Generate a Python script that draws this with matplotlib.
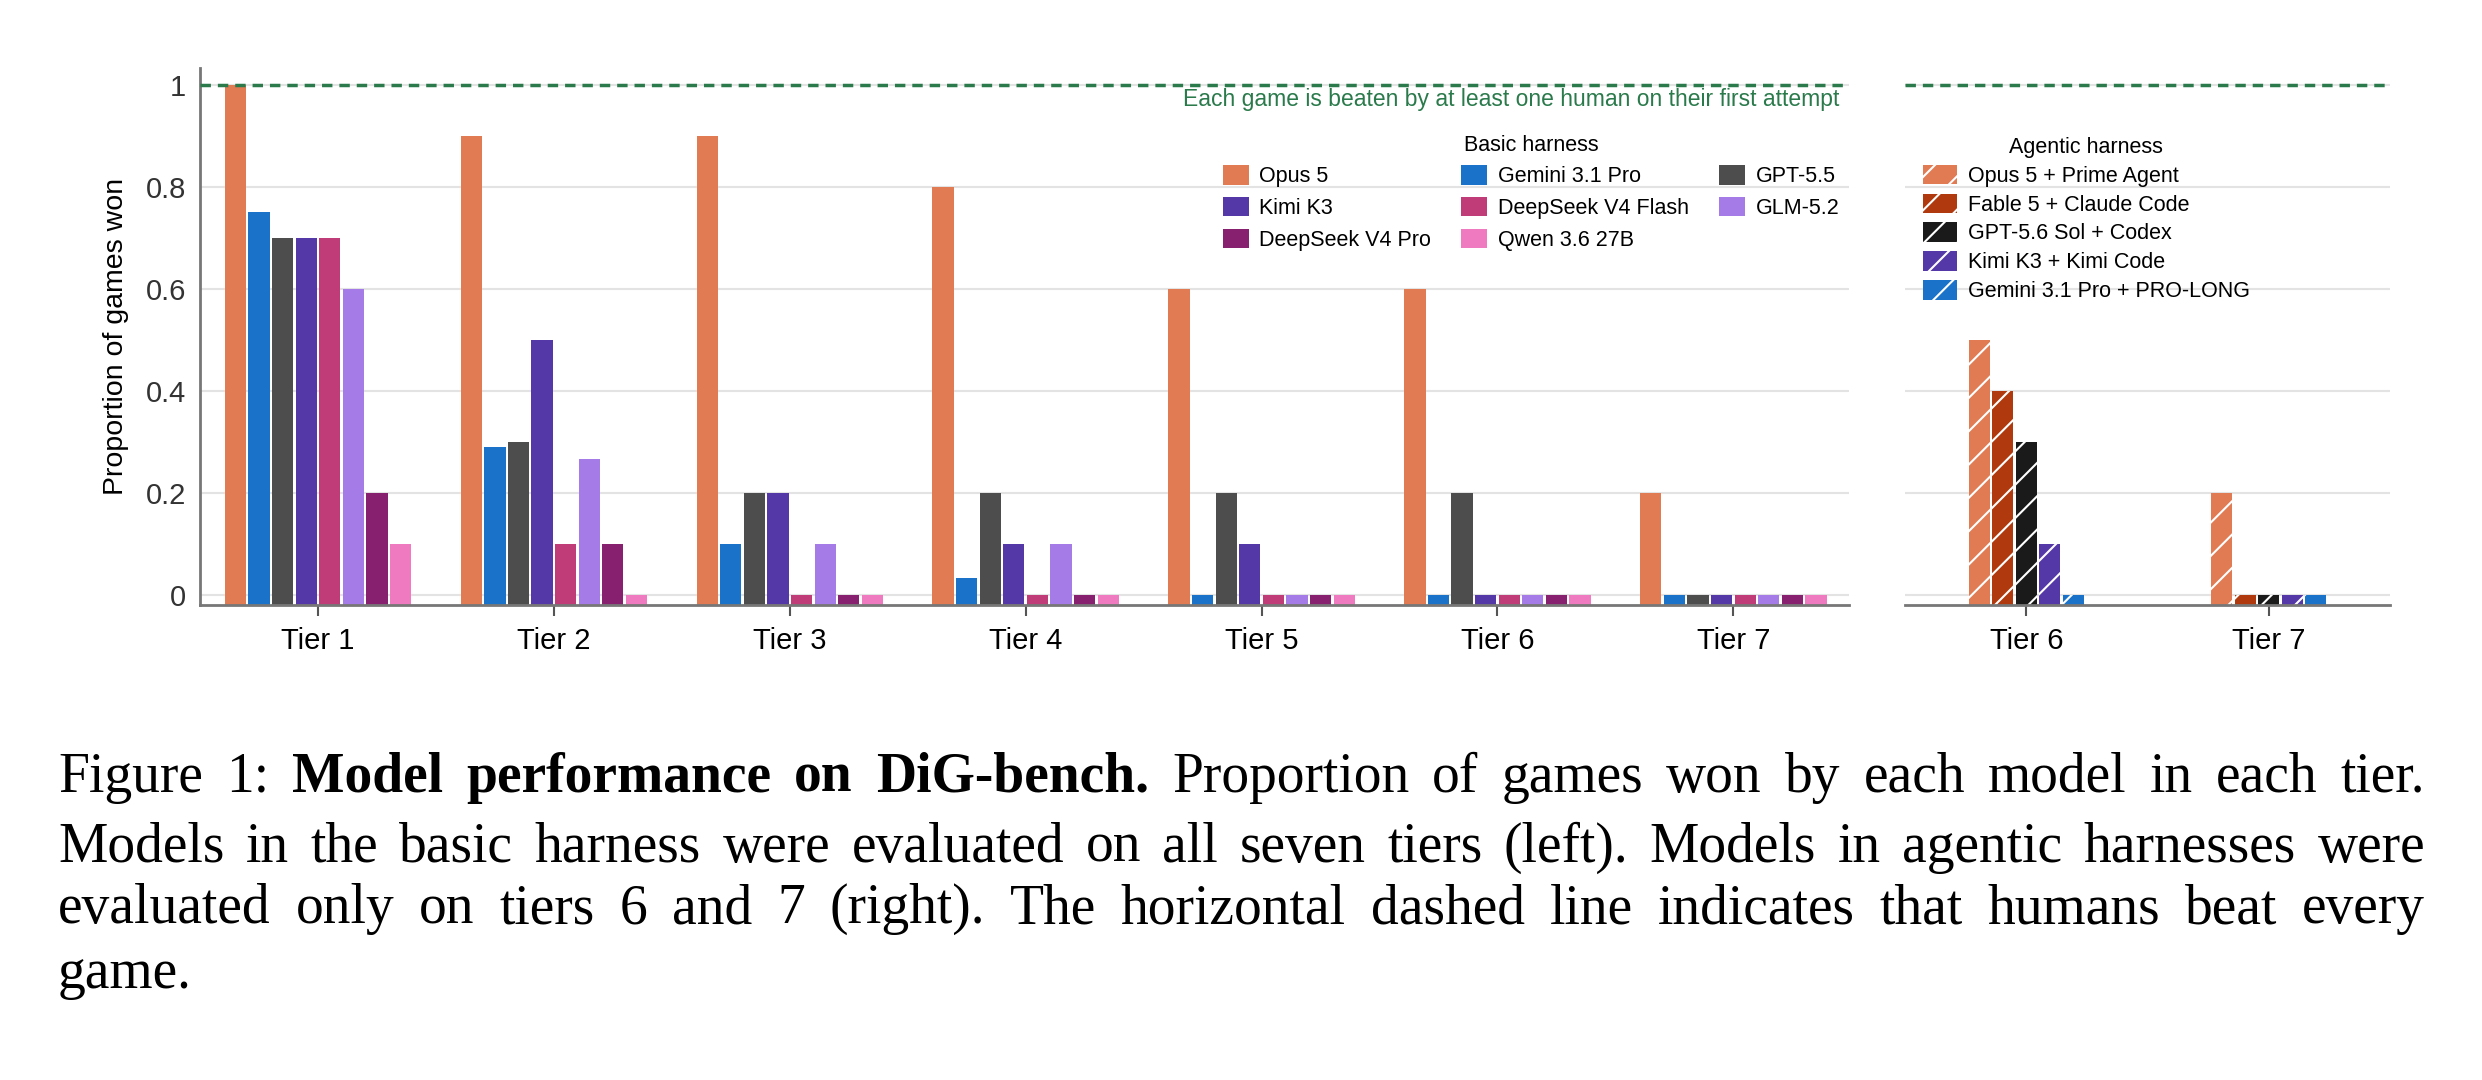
import matplotlib
matplotlib.use("Agg")
import matplotlib.pyplot as plt
import numpy as np
from matplotlib.patches import Patch

tiers = ["Tier 1", "Tier 2", "Tier 3", "Tier 4", "Tier 5", "Tier 6", "Tier 7"]
basic_models = ["Opus 5", "Gemini 3.1 Pro", "GPT-5.5", "Kimi K3", "DeepSeek V4 Flash",
                "GLM-5.2", "DeepSeek V4 Pro", "Qwen 3.6 27B"]
basic_values = {
    "Opus 5":            [1.0, 0.9, 0.9, 0.8, 0.6, 0.6, 0.2],
    "Gemini 3.1 Pro":    [0.75, 0.29, 0.1, 0.033, 0, 0, 0],
    "GPT-5.5":           [0.7, 0.3, 0.2, 0.2, 0.2, 0.2, 0],
    "Kimi K3":           [0.7, 0.5, 0.2, 0.1, 0.1, 0, 0],
    "DeepSeek V4 Flash": [0.7, 0.1, 0, 0, 0, 0, 0],
    "GLM-5.2":           [0.6, 0.267, 0.1, 0.1, 0, 0, 0],
    "DeepSeek V4 Pro":   [0.2, 0.1, 0, 0, 0, 0, 0],
    "Qwen 3.6 27B":      [0.1, 0, 0, 0, 0, 0, 0],
}
basic_colors = {
    "Opus 5": "#E07B53", "Gemini 3.1 Pro": "#1A73C9", "GPT-5.5": "#4D4D4D",
    "Kimi K3": "#5538A8", "DeepSeek V4 Flash": "#BF3C78", "GLM-5.2": "#A57BE8",
    "DeepSeek V4 Pro": "#86206F", "Qwen 3.6 27B": "#F07AC0",
}
agentic_tiers = ["Tier 6", "Tier 7"]
agentic_models = ["Opus 5 + Prime Agent", "Fable 5 + Claude Code", "GPT-5.6 Sol + Codex",
                  "Kimi K3 + Kimi Code", "Gemini 3.1 Pro + PRO-LONG"]
agentic_values = {
    "Opus 5 + Prime Agent": [0.5, 0.2],
    "Fable 5 + Claude Code": [0.4, 0],
    "GPT-5.6 Sol + Codex": [0.3, 0],
    "Kimi K3 + Kimi Code": [0.1, 0],
    "Gemini 3.1 Pro + PRO-LONG": [0, 0],
}
agentic_colors = {
    "Opus 5 + Prime Agent": "#E07B53", "Fable 5 + Claude Code": "#B03A0E",
    "GPT-5.6 Sol + Codex": "#1A1A1A", "Kimi K3 + Kimi Code": "#5538A8",
    "Gemini 3.1 Pro + PRO-LONG": "#1A73C9",
}

plt.rcParams['font.family'] = ['Liberation Sans', 'DejaVu Sans']
plt.rcParams['hatch.linewidth'] = 1.5
W, H = 2482, 1080
fig = plt.figure(figsize=(W/100, H/100), dpi=100)

YMIN, YMAX = -0.02, 1.033
green = "#2A7A4B"

def axrect(x0, x1, y_top, y_bot):
    return [x0/W, 1 - y_bot/H, (x1-x0)/W, (y_bot-y_top)/H]

ax1 = fig.add_axes(axrect(200, 1849, 68, 605))
ax2 = fig.add_axes(axrect(1905, 2390, 68, 605))

for ax in (ax1, ax2):
    ax.set_ylim(YMIN, YMAX)
    ax.set_yticks([0, 0.2, 0.4, 0.6, 0.8, 1.0])
    ax.grid(axis='y', color='#E3E3E3', linewidth=1.5, zorder=0)
    ax.set_axisbelow(True)
    for s in ('top', 'right'):
        ax.spines[s].set_visible(False)
    ax.spines['bottom'].set_color('#777777')
    ax.spines['bottom'].set_linewidth(2)
    ax.tick_params(axis='x', length=8, width=1.5, color='#555555', labelsize=21, pad=8)
    ax.axhline(1.0, color=green, linestyle=(0, (3, 2)), linewidth=2.5, zorder=3)

ax1.set_yticklabels(["0", "0.2", "0.4", "0.6", "0.8", "1"])
ax1.tick_params(axis='y', length=0, labelsize=21, colors='#333333', pad=10)
ax1.spines['left'].set_color('#777777')
ax1.spines['left'].set_linewidth(2)
ax1.set_ylabel("Proportion of games won", fontsize=20.5, labelpad=12)
ax2.spines['left'].set_visible(False)
ax2.tick_params(axis='y', length=0, labelleft=False)

pitch, width = 0.1, 0.09
x = np.arange(len(tiers))
n = len(basic_models)
for i, m in enumerate(basic_models):
    v = np.array(basic_values[m])
    ax1.bar(x + (i - (n-1)/2)*pitch, v - YMIN, width, bottom=YMIN,
            color=basic_colors[m], zorder=2, label=m)
ax1.set_xticks(x)
ax1.set_xticklabels(tiers)
ax1.set_xlim(-0.5, 6.49)

xa = np.arange(len(agentic_tiers))
na = len(agentic_models)
pitch_a, width_a = 0.097, 0.085
for i, m in enumerate(agentic_models):
    v = np.array(agentic_values[m])
    ax2.bar(xa + (i - (na-1)/2)*pitch_a, v - YMIN, width_a, bottom=YMIN,
            color=agentic_colors[m], hatch='/', edgecolor='white', linewidth=0,
            zorder=2, label=m)
ax2.set_xticks(xa)
ax2.set_xticklabels(agentic_tiers)
ax2.set_xlim(-0.5, 1.5)

ax1.text(6.45, 0.972, "Each game is beaten by at least one human on their first attempt",
         ha='right', va='center', color=green, fontsize=16.5)

order = ["Opus 5", "Kimi K3", "DeepSeek V4 Pro", "Gemini 3.1 Pro", "DeepSeek V4 Flash",
         "Qwen 3.6 27B", "GPT-5.5", "GLM-5.2"]
h1 = [Patch(facecolor=basic_colors[m]) for m in order]
leg1 = ax1.legend(h1, order, ncol=3, title="Basic harness", fontsize=15.5, title_fontsize=15.5,
                  frameon=False, loc='upper left', bbox_to_anchor=(1212/W, 1 - 124/H),
                  bbox_transform=fig.transFigure, handlelength=1.2, handleheight=1.0,
                  handletextpad=0.5, columnspacing=1.4, labelspacing=0.45, borderpad=0)

h2 = [Patch(facecolor=agentic_colors[m], hatch='/', edgecolor='white', linewidth=0)
      for m in agentic_models]
leg2 = ax2.legend(h2, agentic_models, ncol=1, title="Agentic harness", fontsize=15.5,
                  title_fontsize=15.5, frameon=False, loc='upper left',
                  bbox_to_anchor=(1912/W, 1 - 126/H), bbox_transform=fig.transFigure,
                  handlelength=1.6, handleheight=1.0, handletextpad=0.5,
                  labelspacing=0.32, borderpad=0)

# caption (justified)
serif = ['Liberation Serif', 'DejaVu Serif']
fs = 40
X0, X1 = 58, 2425
ys = [792, 862, 923, 988]
caption_lines = [
    [("Figure", 'normal'), ("1:", 'normal'), ("Model", 'bold'), ("performance", 'bold'),
     ("on", 'bold'), ("DiG-bench.", 'bold')] +
    [(w, 'normal') for w in "Proportion of games won by each model in each tier.".split()],
    [(w, 'normal') for w in "Models in the basic harness were evaluated on all seven tiers (left). Models in agentic harnesses were".split()],
    [(w, 'normal') for w in "evaluated only on tiers 6 and 7 (right). The horizontal dashed line indicates that humans beat every".split()],
    [(w, 'normal') for w in "game.".split()],
]
fig.canvas.draw()
r = fig.canvas.get_renderer()
for li, (yy, words) in enumerate(zip(ys, caption_lines)):
    texts = [fig.text(0, 0, w, family=serif, fontsize=fs, weight=wt, va='baseline',
                      transform=None) for w, wt in words]
    widths = [t.get_window_extent(r).width for t in texts]
    justify = li < len(caption_lines) - 1 and len(words) > 1
    if justify:
        gap = (X1 - X0 - sum(widths)) / (len(words) - 1)
    else:
        gap = fs * 0.25
    xp = X0
    for t, wd in zip(texts, widths):
        t.set_position((xp, H - yy))
        xp += wd + gap

fig.savefig("out.png", dpi=100)
